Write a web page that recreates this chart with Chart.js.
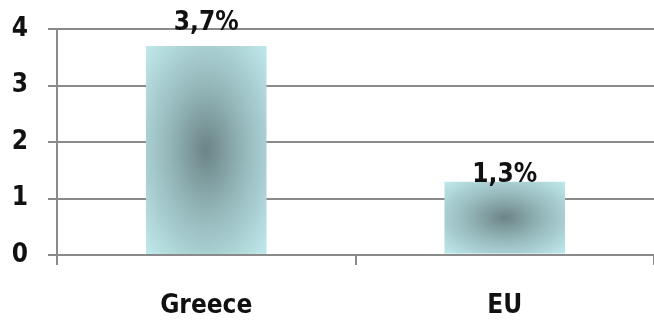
<!DOCTYPE html>
<html>
<head>
<meta charset="utf-8">
<script src="https://cdn.jsdelivr.net/npm/chart.js@4"></script>
<style>
  html, body { margin: 0; padding: 0; background: #fff; }
  #wrap { width: 654px; height: 321px; }
</style>
</head>
<body>
<div id="wrap"><canvas id="chartCanvas" width="654" height="321"></canvas></div>
<script>
const categories = ['Greece', 'EU'];
const values = [3.7, 1.3];
const valueLabels = ['3,7%', '1,3%'];
const yTicks = [0, 1, 2, 3, 4];

const FONT = "'DejaVu Sans Condensed', 'DejaVu Sans', sans-serif";
const gridGray = '#8a8a8a';

// radial (elliptical) shading for each bar, built on an offscreen canvas
function barFill(context) {
  const chart = context.chart;
  const meta = chart.getDatasetMeta(context.datasetIndex);
  const bar = meta.data[context.dataIndex];
  if (!bar || !chart.chartArea) return '#a9d2d5';
  const p = bar.getProps(['x', 'y', 'base', 'width'], true);
  const w = Math.round(p.width);
  const h = Math.round(Math.abs(p.base - p.y));
  if (!(w > 0) || !(h > 0)) return '#a9d2d5';
  const off = document.createElement('canvas');
  off.width = w; off.height = h;
  const c = off.getContext('2d');
  c.save();
  c.translate(w / 2, h / 2);
  c.scale(w / 2, h / 2);
  const g = c.createRadialGradient(0, 0, 0, 0, 0, 1.35);
  g.addColorStop(0, '#6c8486');
  g.addColorStop(0.45, '#94b6b9');
  g.addColorStop(1, '#bde6e9');
  c.fillStyle = g;
  c.fillRect(-1, -1, 2, 2);
  c.restore();
  const pat = chart.ctx.createPattern(off, 'no-repeat');
  pat.setTransform(new DOMMatrix().translate(p.x - w / 2, Math.min(p.y, p.base)));
  return pat;
}

const valueLabelPlugin = {
  id: 'valueLabels',
  afterDatasetsDraw(chart, args, opts) {
    const ctx = chart.ctx;
    const meta = chart.getDatasetMeta(0);
    ctx.save();
    ctx.font = 'bold 26px ' + FONT;
    ctx.fillStyle = '#111';
    ctx.textAlign = 'center';
    ctx.textBaseline = 'alphabetic';
    meta.data.forEach((bar, i) => {
      const lift = (opts.lift && opts.lift[i]) || 0;
      ctx.fillText(valueLabels[i], bar.x, bar.y - lift);
    });
    ctx.restore();
  }
};

const ctx = document.getElementById('chartCanvas').getContext('2d');

const chart = new Chart(ctx, {
  type: 'bar',
  data: {
    labels: categories,
    datasets: [{
      data: values,
      backgroundColor: barFill,
      borderWidth: 0,
      categoryPercentage: 1,
      barPercentage: 0.405
    }]
  },
  options: {
    responsive: false,
    animation: false,
    layout: { padding: { top: 29, right: 0, left: 0, bottom: 0 } },
    plugins: {
      legend: { display: false },
      tooltip: { enabled: false },
      valueLabels: { lift: [16, 0] }
    },
    scales: {
      x: {
        grid: {
          offset: true,
          drawOnChartArea: false,
          color: gridGray,
          lineWidth: 2,
          tickLength: 10
        },
        border: { color: gridGray, width: 2 },
        ticks: {
          color: '#111',
          font: { family: FONT, size: 26, weight: 'bold' },
          padding: 26
        },
        afterFit(scale) { scale.height = 66; scale.paddingLeft = 0; scale.paddingRight = 0; }
      },
      y: {
        min: 0,
        max: 4,
        afterBuildTicks(scale) { scale.ticks = yTicks.map(v => ({ value: v })); },
        grid: {
          color: gridGray,
          lineWidth: 2,
          tickLength: 9
        },
        border: { color: gridGray, width: 2 },
        ticks: {
          color: '#111',
          font: { family: FONT, size: 26, weight: 'bold' },
          padding: 20
        },
        afterFit(scale) { scale.width = 57; scale.paddingTop = 0; scale.paddingBottom = 0; }
      }
    }
  },
  plugins: [valueLabelPlugin]
});
chart.update();
</script>
</body>
</html>
